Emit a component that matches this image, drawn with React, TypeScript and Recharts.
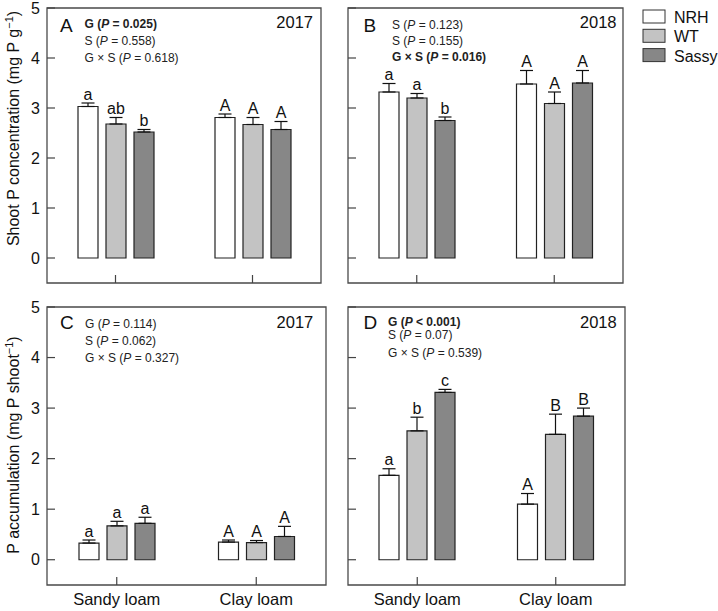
import React from "react";
import { BarChart, Bar, XAxis, YAxis, ErrorBar, ReferenceArea } from "recharts";

const FONT = '"Liberation Sans", Arial, Helvetica, sans-serif';

// ---------- data ----------
const categories = ["Sandy loam", "Clay loam"];
const seriesNames = ["NRH", "WT", "Sassy"];
const seriesFills = ["#ffffff", "#c3c3c3", "#878787"];
const yTicks = [0, 1, 2, 3, 4, 5];

// Panel A: shoot P concentration, 2017
const concA_NRH = [3.03, 2.81];
const concA_WT = [2.68, 2.67];
const concA_Sassy = [2.52, 2.57];
const concA_NRH_err = [0.07, 0.07];
const concA_WT_err = [0.13, 0.14];
const concA_Sassy_err = [0.05, 0.16];
const concA_letters = [["a", "A"], ["ab", "A"], ["b", "A"]];
const concA_stats = ["G (P = 0.025)", "S (P = 0.558)", "G × S (P = 0.618)"];
const concA_bold = [true, false, false];

// Panel B: shoot P concentration, 2018
const concB_NRH = [3.32, 3.48];
const concB_WT = [3.2, 3.09];
const concB_Sassy = [2.75, 3.5];
const concB_NRH_err = [0.17, 0.27];
const concB_WT_err = [0.09, 0.23];
const concB_Sassy_err = [0.07, 0.25];
const concB_letters = [["a", "A"], ["a", "A"], ["b", "A"]];
const concB_stats = ["S (P = 0.123)", "S (P = 0.155)", "G × S (P = 0.016)"];
const concB_bold = [false, false, true];

// Panel C: P accumulation, 2017
const accC_NRH = [0.33, 0.35];
const accC_WT = [0.67, 0.34];
const accC_Sassy = [0.72, 0.46];
const accC_NRH_err = [0.06, 0.04];
const accC_WT_err = [0.09, 0.04];
const accC_Sassy_err = [0.12, 0.2];
const accC_letters = [["a", "A"], ["a", "A"], ["a", "A"]];
const accC_stats = ["G (P = 0.114)", "S (P = 0.062)", "G × S (P = 0.327)"];
const accC_bold = [false, false, false];

// Panel D: P accumulation, 2018
const accD_NRH = [1.67, 1.1];
const accD_WT = [2.55, 2.48];
const accD_Sassy = [3.31, 2.84];
const accD_NRH_err = [0.13, 0.21];
const accD_WT_err = [0.27, 0.4];
const accD_Sassy_err = [0.06, 0.16];
const accD_letters = [["a", "A"], ["b", "B"], ["c", "B"]];
const accD_stats = ["G (P < 0.001)", "S (P = 0.07)", "G × S (P = 0.539)"];
const accD_bold = [true, false, false];

// ---------- helpers ----------
function buildRows(values: number[][], errors: number[][]) {
  return categories.map((cat, i) => {
    const row: any = { cat };
    values.forEach((v, k) => {
      row["s" + k] = v[i];
      row["s" + k + "e"] = [0, errors[k][i]];
    });
    return row;
  });
}

function YTick(props: any) {
  const { x, y, payload, showLabel } = props;
  return (
    <g>
      <line x1={x} x2={x + 8} y1={y} y2={y} stroke="#444" strokeWidth={1.2} />
      {showLabel && (
        <text x={x - 7} y={y} dy="0.36em" textAnchor="end" fontSize={16} fill="#111" fontFamily={FONT}>
          {payload.value}
        </text>
      )}
    </g>
  );
}

function XTick(props: any) {
  const { x, y, payload, showLabel } = props;
  return (
    <g>
      <line x1={x} x2={x} y1={y} y2={y - 8} stroke="#444" strokeWidth={1.2} />
      {showLabel && (
        <text x={x} y={y + 20} textAnchor="middle" fontSize={16.5} fill="#111" fontFamily={FONT}>
          {payload.value}
        </text>
      )}
    </g>
  );
}

function StatText(props: { x: number; y: number; text: string; bold: boolean }) {
  const { x, y, text, bold } = props;
  const idx = text.indexOf("(P");
  const before = text.slice(0, idx + 1);
  const after = text.slice(idx + 2);
  return (
    <text x={x} y={y} fontSize={12} fontFamily={FONT} fill="#222" fontWeight={bold ? "bold" : "normal"}>
      {before}
      <tspan fontStyle="italic">P</tspan>
      {after}
    </text>
  );
}

type PanelProps = {
  letter: string;
  year: string;
  values: number[][];
  errors: number[][];
  letters: string[][];
  stats: string[];
  bold: boolean[];
  left: number;
  top: number;
  width: number;
  height: number;
  margin: { top: number; left: number; right: number; bottom: number };
  showYLabels: boolean;
  showXLabels: boolean;
  yLabel?: string;
  yLabelCenter?: number;
  letterDx: number;
  letterDy: number;
  statsDx: number;
  statsDy: number[];
  yearDx: number;
  yearDy: number;
};

function Panel(p: PanelProps) {
  const rows = buildRows(p.values, p.errors);
  const plotLeft = p.margin.left;
  const plotTop = p.margin.top;
  const plotRight = p.width - p.margin.right;
  const chartMargin = { top: p.margin.top, right: p.margin.right, left: 0, bottom: 0 };
  return (
    <div style={{ position: "absolute", left: p.left, top: p.top, width: p.width, height: p.height }}>
      <BarChart width={p.width} height={p.height} data={rows} margin={chartMargin} barGap={8}>
        <XAxis
          dataKey="cat"
          type="category"
          height={p.margin.bottom}
          axisLine={false}
          tickLine={false}
          tickSize={0}
          tickMargin={0}
          interval={0}
          tick={(tp: any) => <XTick {...tp} showLabel={p.showXLabels} />}
        />
        <YAxis
          type="number"
          domain={[-0.5, 5]}
          ticks={yTicks}
          interval={0}
          allowDataOverflow
          width={p.margin.left}
          axisLine={false}
          tickLine={false}
          tickSize={0}
          tickMargin={0}
          tick={(tp: any) => <YTick {...tp} showLabel={p.showYLabels} />}
        />
        {seriesNames.map((name, k) => (
          <Bar
            key={name}
            dataKey={"s" + k}
            name={name}
            fill={seriesFills[k]}
            stroke="#222"
            strokeWidth={1.2}
            barSize={20}
            isAnimationActive={false}
            label={(lp: any) => {
              const vb = lp.viewBox || lp;
              const x = vb.x ?? lp.x;
              const y = vb.y ?? lp.y;
              const w = vb.width ?? lp.width;
              const h = vb.height ?? lp.height;
              const idx = lp.index;
              const val = p.values[k][idx];
              const pxPer = Math.abs(h) / val;
              const errTop = y - p.errors[k][idx] * pxPer;
              return (
                <text
                  x={x + w / 2}
                  y={errTop - 3.5}
                  textAnchor="middle"
                  fontSize={16}
                  fontFamily={FONT}
                  fill="#111"
                >
                  {p.letters[k][idx]}
                </text>
              );
            }}
          >
            <ErrorBar dataKey={"s" + k + "e"} width={6.5} stroke="#111" strokeWidth={1.2} direction="y" />
          </Bar>
        ))}
        <ReferenceArea y1={-0.5} y2={5} fill="none" fillOpacity={0} stroke="#4a4a4a" strokeWidth={1.3} ifOverflow="visible" />
        <text x={plotLeft + p.letterDx} y={plotTop + p.letterDy} fontSize={19} fontFamily={FONT} fill="#111">
          {p.letter}
        </text>
        {p.stats.map((s, i) => (
          <StatText key={i} x={plotLeft + p.statsDx} y={plotTop + p.statsDy[i]} text={s} bold={p.bold[i]} />
        ))}
        <text x={plotRight - p.yearDx} y={plotTop + p.yearDy} textAnchor="end" fontSize={16.5} fontFamily={FONT} fill="#111">
          {p.year}
        </text>
        {p.yLabel && (
          <text
            x={19}
            y={p.yLabelCenter}
            transform={`rotate(-90, 19, ${p.yLabelCenter})`}
            textAnchor="middle"
            fontSize={16}
            fontFamily={FONT}
            fill="#111"
          >
            {p.yLabel}
            <tspan dy={-6} fontSize={11}>−1</tspan>
            <tspan dy={6}>)</tspan>
          </text>
        )}
      </BarChart>
    </div>
  );
}

function Legend() {
  return (
    <svg style={{ position: "absolute", left: 630, top: 0 }} width={88} height={72}>
      {seriesNames.map((name, k) => (
        <g key={name}>
          <rect x={13} y={10 + k * 19.3} width={22} height={13} fill={seriesFills[k]} stroke="#333" strokeWidth={1} />
          <text x={44} y={22.5 + k * 19.6} fontSize={16} fontFamily={FONT} fill="#111">
            {name}
          </text>
        </g>
      ))}
    </svg>
  );
}

export default function App() {
  return (
    <div style={{ position: "absolute", left: 0, top: 0, width: 718, height: 611, background: "#fff" }}>
      <Panel
        letter="A"
        year="2017"
        values={[concA_NRH, concA_WT, concA_Sassy]}
        errors={[concA_NRH_err, concA_WT_err, concA_Sassy_err]}
        letters={concA_letters}
        stats={concA_stats}
        bold={concA_bold}
        left={0}
        top={0}
        width={340}
        height={300}
        margin={{ top: 8, left: 47, right: 19, bottom: 17 }}
        showYLabels={true}
        showXLabels={false}
        yLabel="Shoot P concentration (mg P g"
        yLabelCenter={128.5}
        letterDx={13}
        letterDy={23.5}
        statsDx={37.5}
        statsDy={[20.3, 37, 53.7]}
        yearDx={8}
        yearDy={20}
      />
      <Panel
        letter="B"
        year="2018"
        values={[concB_NRH, concB_WT, concB_Sassy]}
        errors={[concB_NRH_err, concB_WT_err, concB_Sassy_err]}
        letters={concB_letters}
        stats={concB_stats}
        bold={concB_bold}
        left={330}
        top={0}
        width={300}
        height={300}
        margin={{ top: 8, left: 18, right: 7, bottom: 17 }}
        showYLabels={false}
        showXLabels={false}
        letterDx={15.5}
        letterDy={23.5}
        statsDx={44}
        statsDy={[21, 37, 53]}
        yearDx={6.5}
        yearDy={19.7}
      />
      <Panel
        letter="C"
        year="2017"
        values={[accC_NRH, accC_WT, accC_Sassy]}
        errors={[accC_NRH_err, accC_WT_err, accC_Sassy_err]}
        letters={accC_letters}
        stats={accC_stats}
        bold={accC_bold}
        left={0}
        top={300}
        width={340}
        height={311}
        margin={{ top: 7, left: 47, right: 14, bottom: 26 }}
        showYLabels={true}
        showXLabels={true}
        yLabel="P accumulation (mg P shoot"
        yLabelCenter={145}
        letterDx={13}
        letterDy={22.3}
        statsDx={38}
        statsDy={[21.3, 38, 54.7]}
        yearDx={12.7}
        yearDy={20.7}
      />
      <Panel
        letter="D"
        year="2018"
        values={[accD_NRH, accD_WT, accD_Sassy]}
        errors={[accD_NRH_err, accD_WT_err, accD_Sassy_err]}
        letters={accD_letters}
        stats={accD_stats}
        bold={accD_bold}
        left={330}
        top={300}
        width={300}
        height={311}
        margin={{ top: 7, left: 18, right: 5, bottom: 26 }}
        showYLabels={false}
        showXLabels={true}
        letterDx={15.5}
        letterDy={22}
        statsDx={40}
        statsDy={[19, 32, 49.7]}
        yearDx={8.3}
        yearDy={20.7}
      />
      <Legend />
    </div>
  );
}
